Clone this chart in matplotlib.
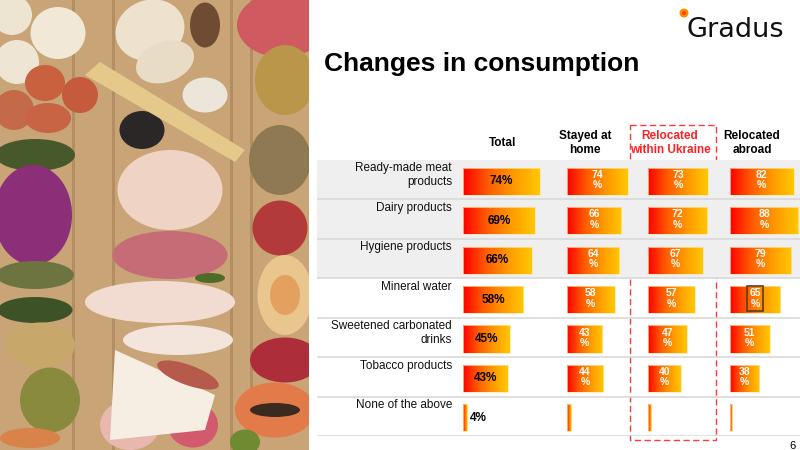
import numpy as np
import matplotlib
matplotlib.use("Agg")
import matplotlib.pyplot as plt
from matplotlib.colors import LinearSegmentedColormap
from matplotlib.patches import Ellipse, Circle, Rectangle, Polygon

plt.rcParams["font.family"] = ["Liberation Sans", "DejaVu Sans"]

# chart data
categories = ["Ready-made meat\nproducts", "Dairy products", "Hygiene products",
              "Mineral water", "Sweetened carbonated\ndrinks", "Tobacco products",
              "None of the above"]
columns = ["Total", "Stayed at\nhome", "Relocated\nwithin Ukraine", "Relocated\nabroad"]
total = [74, 69, 66, 58, 45, 43, 4]
stayed_home = [74, 66, 64, 58, 43, 44, 5]
relocated_ukraine = [73, 72, 67, 57, 47, 40, 4]
relocated_abroad = [82, 88, 79, 65, 51, 38, 3]

W, H = 800, 450
grad_cmap = LinearSegmentedColormap.from_list(
    "bar", ["#ff0000", "#ff5c00", "#ff9a00", "#ffc800"])
gradient = np.linspace(0, 1, 256).reshape(1, -1)


def px_rect(x0, y0, x1, y1):
    """Figure-fraction rect from pixel box (origin top-left)."""
    return [x0 / W, 1 - y1 / H, (x1 - x0) / W, (y1 - y0) / H]


fig = plt.figure(figsize=(8, 4.5), dpi=100)

# background / decoration axes in pixel coords
bg = fig.add_axes([0, 0, 1, 1])
bg.set_xlim(0, W)
bg.set_ylim(H, 0)
bg.axis("off")

# rough stand-in for the food photo, clipped to its panel
photo = fig.add_axes(px_rect(0, 0, 309, 450))
photo.set_xlim(0, 309)
photo.set_ylim(450, 0)
photo.axis("off")
photo.add_patch(Rectangle((0, 0), 309, 450, fc="#c9a476", ec="none"))
for x in (72, 112, 230, 250):
    photo.add_patch(Rectangle((x, 0), 2.5, 450, fc="#9c7a50", alpha=0.5, ec="none"))
food = [
    (12, 15, 40, 40, "#eee4d2", 0), (58, 33, 55, 52, "#f1e8d8", 0), (17, 62, 44, 44, "#efe5d4", 0),
    (45, 83, 40, 36, "#c9603e", 0), (80, 95, 36, 36, "#c65a3c", 0), (14, 110, 40, 40, "#c46a48", 0),
    (48, 118, 46, 30, "#c86444", 0), (35, 155, 80, 32, "#47592a", 0), (33, 215, 78, 100, "#8b2f78", 0),
    (35, 275, 78, 28, "#6d7440", 0), (35, 310, 75, 26, "#3d5226", 0), (40, 345, 70, 45, "#c8a86a", 0),
    (50, 400, 60, 65, "#8a8a3e", 0), (30, 438, 60, 20, "#d9824a", 0),
    (150, 30, 70, 60, "#eee2cf", -20), (165, 62, 60, 40, "#e9dcc6", -20), (205, 25, 30, 45, "#6f4b33", 0),
    (205, 95, 45, 35, "#ece6da", 0), (142, 130, 45, 38, "#2b2727", 0),
    (170, 190, 105, 80, "#efd3c4", 0), (170, 255, 115, 48, "#c66c76", 0), (210, 278, 30, 10, "#4f6b2a", 0),
    (160, 302, 150, 42, "#f2dcd1", 0), (178, 340, 110, 30, "#f3e4dc", 0),
    (130, 425, 60, 50, "#e8b7ae", 0), (193, 425, 50, 45, "#d25a6c", 0),
    (282, 25, 90, 65, "#cf5b60", 0), (285, 80, 60, 70, "#b9964a", 0), (280, 160, 62, 70, "#8e7a52", 0),
    (280, 228, 55, 55, "#b33a3a", 0), (285, 295, 55, 80, "#e8c68e", 0), (285, 295, 30, 40, "#e3a05e", 0),
    (285, 360, 70, 45, "#ad2e3a", 0), (275, 410, 80, 55, "#e27a4a", 0), (275, 410, 50, 14, "#3a2a20", 0),
    (245, 442, 30, 25, "#6f8a30", 0),
]
for cx, cy, w, h, c, ang in food:
    photo.add_patch(Ellipse((cx, cy), w, h, angle=ang, fc=c, ec="none"))
photo.add_patch(Polygon([(85, 75), (100, 62), (245, 150), (235, 162)], fc="#e4c98a", ec="none"))
photo.add_patch(Polygon([(115, 350), (215, 395), (205, 430), (110, 440)], fc="#f6eee2", ec="none"))
photo.add_patch(Ellipse((188, 375), 65, 20, angle=20, fc="#b65a4c", ec="none"))

# title, logo, page number
bg.text(324, 71, "Changes in consumption", fontsize=19, fontweight="bold", va="baseline", ha="left")
bg.text(687, 37, "Gradus", fontsize=19.5, family="DejaVu Sans", va="baseline", ha="left", color="#111111")
bg.add_patch(Circle((684, 13), 4.5, fc="#ff8c00", ec="none"))
bg.add_patch(Circle((684, 13), 2, fc="#ff3b10", ec="none"))
bg.text(792, 446, "6", fontsize=8, ha="center", va="center")

# column headers
header_x = [503, 585, 670, 752]
header_color = ["black", "black", "#ff2222", "black"]
for hx, lab, col in zip(header_x, columns, header_color):
    bg.text(hx, 143, lab, fontsize=8.5, fontweight="bold", ha="center", va="center",
            multialignment="center", color=col, linespacing=1.2)

# red dashed highlight box
bg.add_patch(Rectangle((630, 125), 86, 315, fill=False, ec="#ff3b3b", lw=1.0,
                       linestyle=(0, (4.5, 2.5))))

# row structure
n = len(categories)
rows = fig.add_axes(px_rect(317, 160, 800, 436))
rows.set_xlim(317, 800)
rows.set_ylim(n - 0.5, -0.5)
rows.axis("off")
rows.axhspan(-0.5, 2.5, color="#efefef", lw=0)
for i in range(n):
    rows.axhline(i + 0.5, color="#d9d9d9", lw=1.2)
for i, lab in enumerate(categories):
    rows.text(452, i - 0.5 + 0.06, lab, fontsize=8.5, ha="right", va="top",
              multialignment="right", linespacing=1.2, color="#111111")

# bar columns: data, left edge px, px per percent
col_specs = [(total, 463, 1.04), (stayed_home, 567, 0.82),
             (relocated_ukraine, 648, 0.82), (relocated_abroad, 730, 0.775)]
y_pos = np.arange(n) + 0.04
bar_h = 0.69
for k, (vals, x0, scale) in enumerate(col_specs):
    ax = fig.add_axes(px_rect(x0, 160, x0 + 100 * scale, 436))
    ax.patch.set_alpha(0)
    bars = ax.barh(y_pos, vals, height=bar_h, color="none", edgecolor="#ffe4a8", lw=0.5)
    for b in bars:
        x, y = b.get_x(), b.get_y()
        img = ax.imshow(gradient, cmap=grad_cmap, aspect="auto",
                        extent=[x, x + b.get_width(), y + b.get_height(), y])
        img.set_clip_path(b)
    for i, v in enumerate(vals):
        if k == 0:
            if v < 10:
                ax.text(v + 3 / scale, y_pos[i], f"{v}%", fontsize=8.5, fontweight="bold",
                        ha="left", va="center")
            else:
                ax.text(v / 2, y_pos[i], f"{v}%", fontsize=8.5, fontweight="bold",
                        ha="center", va="center")
        elif i < n - 1:
            kw = {}
            if k == 3 and i == 3:
                kw["bbox"] = dict(boxstyle="square,pad=0.2", fc="none", ec="#5b3b1e", lw=1.2)
            ax.text(v / 2, y_pos[i] - 0.03, f"{v}\n%", fontsize=7.5, fontweight="bold",
                    color="white", ha="center", va="center", linespacing=1.05, **kw)
    ax.set_xlim(0, 100)
    ax.set_ylim(n - 0.5, -0.5)
    ax.axis("off")

fig.savefig("out.png", dpi=100)
